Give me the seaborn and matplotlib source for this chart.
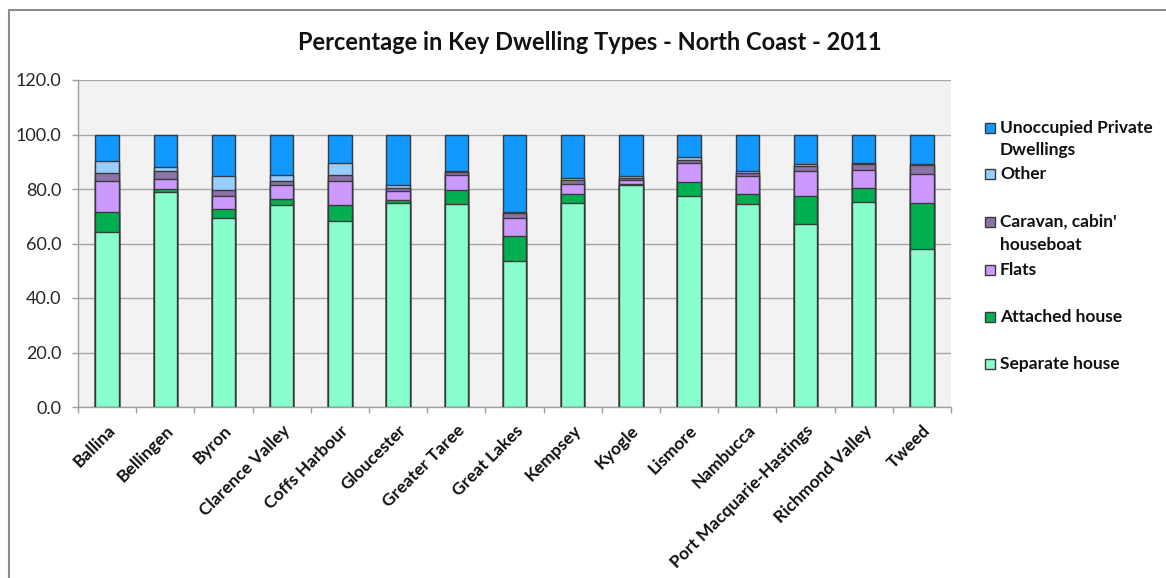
import numpy as np
import matplotlib
matplotlib.use("Agg")
import matplotlib.pyplot as plt
from matplotlib.patches import Rectangle
import seaborn as sns

# Local government areas of the North Coast
districts = ["Ballina", "Bellingen", "Byron", "Clarence Valley", "Coffs Harbour",
             "Gloucester", "Greater Taree", "Great Lakes", "Kempsey", "Kyogle",
             "Lismore", "Nambucca", "Port Macquarie-Hastings", "Richmond Valley", "Tweed"]

# Share of private dwellings by type (%), 2011
separate_house = [64.3, 78.8, 69.2, 74.1, 68.2, 75.0, 74.4, 53.7, 74.7, 81.3, 77.6, 74.4, 67.3, 75.4, 57.8]
attached_house = [7.1, 1.1, 3.6, 2.3, 5.9, 0.8, 5.3, 9.2, 3.6, 0.7, 5.0, 3.9, 10.3, 4.9, 17.0]
flats          = [11.7, 3.6, 4.6, 4.9, 8.9, 3.4, 5.6, 6.3, 3.7, 1.2, 6.8, 6.4, 8.9, 6.8, 10.8]
caravan        = [2.9, 3.0, 2.4, 1.7, 2.3, 1.2, 1.0, 2.0, 1.2, 1.0, 1.4, 1.3, 1.9, 1.9, 3.1]
other          = [4.3, 1.4, 4.8, 2.1, 4.3, 0.9, 0.4, 0.4, 0.9, 0.7, 0.8, 0.7, 0.6, 0.4, 0.3]
unoccupied     = [9.7, 12.1, 15.4, 14.9, 10.4, 18.7, 13.3, 28.4, 15.9, 15.1, 8.4, 13.3, 11.0, 10.6, 11.0]

series_names = ["Separate house", "Attached house", "Flats",
                "Caravan, cabin'\nhouseboat", "Other", "Unoccupied Private\nDwellings"]
series_values = [separate_house, attached_house, flats, caravan, other, unoccupied]
series_colors = ["#88FFCC", "#00B050", "#CC99FF", "#8B72A8", "#99CCFF", "#1199FF"]

y_ticks = [0, 20, 40, 60, 80, 100, 120]
title = "Percentage in Key Dwelling Types - North Coast - 2011"

W, H, DPI = 1166, 578, 100
FONT = "Lato"

sns.set_style("white")
plt.rcParams["font.family"] = [FONT, "DejaVu Sans"]

fig = plt.figure(figsize=(W / DPI, H / DPI), dpi=DPI)
fig.patch.set_facecolor("white")

# plot area in pixel terms
L, R, T, B = 78, 951, 80, 407
ax = fig.add_axes([L / W, 1 - B / H, (R - L) / W, (B - T) / H])
ax.set_facecolor("#F2F2F2")

# stacked bars: draw cumulative totals from the top segment down
cum = np.round(np.cumsum(np.array(series_values), axis=0), 2)
for i in range(len(series_values) - 1, -1, -1):
    sns.barplot(x=districts, y=cum[i], order=districts, color=series_colors[i],
                width=0.4, edgecolor="#3a3a3a", linewidth=1.0, errorbar=None,
                saturation=1, ax=ax, zorder=3)

ax.set_ylim(0, 120)
ax.set_xlim(-0.5, len(districts) - 0.5)
ax.set_yticks(y_ticks)
ax.set_yticklabels([f"{v:.1f}" for v in y_ticks])
ax.yaxis.grid(True, color="#A6A6A6", linewidth=1.0, zorder=0)
ax.xaxis.grid(False)
ax.set_axisbelow(True)
ax.set_xlabel("")
ax.set_ylabel("")

for side in ["top", "right"]:
    ax.spines[side].set_visible(False)
for side in ["left", "bottom"]:
    ax.spines[side].set_color("#A0A0A0")
    ax.spines[side].set_linewidth(1.0)

ax.tick_params(axis="y", which="major", length=4, width=1, color="#A0A0A0",
               pad=8, labelsize=13, labelcolor="#262626", direction="out", left=True)
# category separators on the x axis
ax.set_xticks(np.arange(-0.5, len(districts), 1.0), minor=True)
ax.tick_params(axis="x", which="minor", length=4, width=1, color="#A0A0A0",
               direction="out", bottom=True)
ax.tick_params(axis="x", which="major", length=0, pad=11)
ax.set_xticks(range(len(districts)))
ax.set_xticklabels(districts, rotation=45, ha="right", va="top",
                   rotation_mode="anchor", fontsize=12.5, fontweight="bold",
                   color="#111111")

# title
fig.text(590 / W, 1 - 43 / H, title, ha="center", va="center",
         fontsize=17, fontweight="bold", color="#111111")

# legend, top entry first
rows_y = [128, 174, 222, 270, 317, 364]
for k, idx in enumerate(range(len(series_names) - 1, -1, -1)):
    yc = rows_y[k]
    fig.add_artist(Rectangle((985 / W, 1 - (yc + 5) / H), 10 / W, 10 / H,
                             transform=fig.transFigure, facecolor=series_colors[idx],
                             edgecolor="#3a3a3a", linewidth=1.0))
    fig.text(1000 / W, 1 - (yc - 8) / H, series_names[idx], ha="left", va="top",
             fontsize=12.5, fontweight="bold", color="#111111", linespacing=1.5)

# chart outline
fig.add_artist(Rectangle((9 / W, -0.05), 1.1, 1 - 10 / H + 0.05,
                         transform=fig.transFigure, facecolor="none",
                         edgecolor="#8C8C8C", linewidth=1.5))

fig.savefig("out.png", dpi=DPI)
